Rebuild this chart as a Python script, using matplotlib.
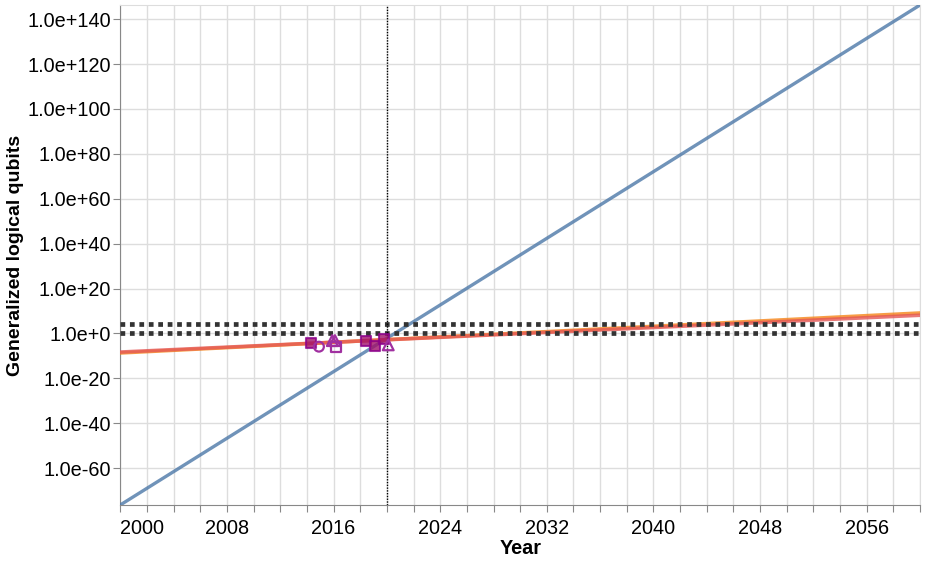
import numpy as np
import matplotlib.pyplot as plt
from matplotlib.ticker import FixedLocator, FuncFormatter, NullLocator

plt.rcParams['font.family'] = ['Liberation Sans', 'DejaVu Sans']

# trend lines (year, log10 of generalized logical qubits)
line_years = [2000, 2060]
blue_log = [-76.4, 146.3]
orange_log = [-8.7, 9.1]
red_log = [-8.3, 8.1]

# thresholds
thresh_log = [0, 4]
now_year = 2020

# observed devices
sq_fill_x = [2014.3, 2018.4, 2019.1, 2019.8]
sq_fill_y = [-4.1, -3.2, -5.6, -2.6]
circ_x = [2014.9]
circ_y = [-5.9]
tri_x = [2015.9, 2016.1, 2020.1]
tri_y = [-3.2, -3.2, -5.1]
sq_open_x = [2016.2]
sq_open_y = [-5.9]

fig = plt.figure(figsize=(9.26, 5.61), dpi=100)
ax = fig.add_axes([0.130, 0.100, 0.8635, 0.891])

p = lambda v: 10.0 ** np.array(v)

ax.plot(line_years, p(blue_log), color='#4c78a8', alpha=0.8, lw=2.4, zorder=3)
ax.plot(line_years, p(orange_log), color='#f58518', alpha=0.8, lw=2.6, zorder=3)
ax.plot(line_years, p(red_log), color='#e45756', alpha=0.8, lw=2.6, zorder=3)

for t in thresh_log:
    ax.axhline(10.0 ** t, color='#333333', lw=3.4, linestyle=(0, (1, 1)),
               dash_capstyle='butt', zorder=4)
ax.axvline(now_year, color='black', lw=1.0, linestyle=(0, (1, 1)), zorder=4)

ax.scatter(sq_fill_x, p(sq_fill_y), marker='s', s=60, facecolor='#a0106a',
           edgecolor='#8b008b', alpha=0.8, lw=1.5, zorder=5)
ax.scatter(circ_x, p(circ_y), marker='o', s=50, facecolor='none',
           edgecolor='#a030a0', lw=1.6, zorder=5)
ax.scatter(tri_x, p(tri_y), marker='^', s=60, facecolor='none',
           edgecolor='#a030a0', lw=1.6, zorder=5)
ax.scatter(sq_open_x, p(sq_open_y), marker='s', s=50, facecolor='none',
           edgecolor='#a030a0', lw=1.6, zorder=5)

ax.set_yscale('log')
ax.set_xlim(2000, 2060)
ax.set_ylim(10.0 ** -76.4, 10.0 ** 146.3)

ax.yaxis.set_major_locator(FixedLocator([10.0 ** e for e in range(-60, 141, 20)]))
ax.yaxis.set_minor_locator(NullLocator())
ax.yaxis.set_major_formatter(FuncFormatter(
    lambda v, pos: '1.0e%+d' % int(round(np.log10(v))) if round(np.log10(v)) != 0 else '1.0e+0'))

ax.xaxis.set_major_locator(FixedLocator(list(range(2000, 2061, 2))))
ax.xaxis.set_major_formatter(FuncFormatter(
    lambda v, pos: str(int(v)) if int(v) % 8 == 0 and v < 2060 else ''))

ax.grid(True, color='#dddddd', lw=1.0, zorder=0)
ax.set_axisbelow(True)
for s in ['top', 'right']:
    ax.spines[s].set_color('#dddddd')
for s in ['left', 'bottom']:
    ax.spines[s].set_color('#888888')
ax.tick_params(colors='#888888', length=5, labelcolor='black', labelsize=14.3)
ax.tick_params(axis='x', pad=5)
ax.tick_params(axis='y', pad=1.5)

# first x label flush left as in the original
for lab in ax.get_xticklabels():
    if lab.get_text() == '2000':
        lab.set_horizontalalignment('left')

ax.set_xlabel('Year', fontsize=14.3, fontweight='bold', labelpad=1)
fig.text(15.5 / 926, 1 - 255 / 561, 'Generalized logical qubits', rotation=90,
         ha='center', va='center', fontsize=14, fontweight='bold')

plt.savefig('out.png', dpi=100)
